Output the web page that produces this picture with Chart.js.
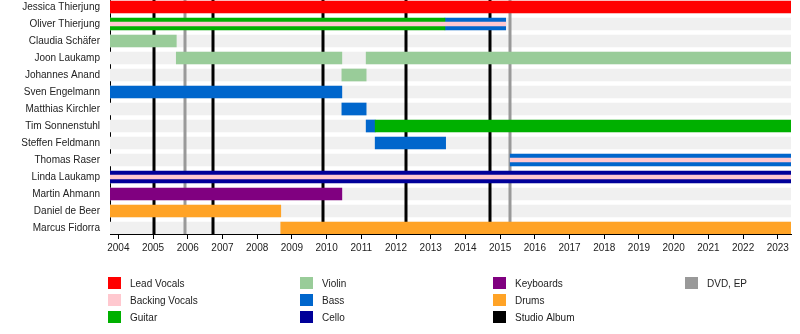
<!DOCTYPE html>
<html>
<head>
<meta charset="utf-8">
<title>Band timeline</title>
<script src="https://cdn.jsdelivr.net/npm/chart.js@4.4.1/dist/chart.umd.min.js"></script>
<style>
  html, body { margin: 0; padding: 0; background: #fff; }
  #wrap { width: 800px; height: 334px; position: relative; }
</style>
</head>
<body>
<div id="wrap"><canvas id="timeline"></canvas></div>
<script>
// Time span of the axis (decimal years)
const START = 2003.76;
const END = 2023.38;

// Band members, top to bottom
const members = [
  'Jessica Thierjung', 'Oliver Thierjung', 'Claudia Schäfer', 'Joon Laukamp',
  'Johannes Anand', 'Sven Engelmann', 'Matthias Kirchler', 'Tim Sonnenstuhl',
  'Steffen Feldmann', 'Thomas Raser', 'Linda Laukamp', 'Martin Ahmann',
  'Daniel de Beer', 'Marcus Fidorra'
];

// Year tick labels
const years = [2004, 2005, 2006, 2007, 2008, 2009, 2010, 2011, 2012, 2013,
               2014, 2015, 2016, 2017, 2018, 2019, 2020, 2021, 2022, 2023];

// Membership periods per role: [member, from, to]
const leadVocals = [['Jessica Thierjung', START, END]];
const backingVocals = [
  ['Oliver Thierjung', START, 2015.16],
  ['Thomas Raser', 2015.29, END],
  ['Linda Laukamp', START, END]
];
const guitar = [
  ['Oliver Thierjung', START, 2013.41],
  ['Tim Sonnenstuhl', 2011.40, END]
];
const violin = [
  ['Claudia Schäfer', START, 2005.67],
  ['Joon Laukamp', 2005.67, 2010.44],
  ['Joon Laukamp', 2011.14, END],
  ['Johannes Anand', 2010.44, 2011.14]
];
const bass = [
  ['Oliver Thierjung', 2013.41, 2015.16],
  ['Sven Engelmann', START, 2010.44],
  ['Matthias Kirchler', 2010.44, 2011.14],
  ['Tim Sonnenstuhl', 2011.14, 2011.40],
  ['Steffen Feldmann', 2011.40, 2013.43],
  ['Thomas Raser', 2015.29, END]
];
const cello = [['Linda Laukamp', START, END]];
const keyboards = [['Martin Ahmann', START, 2010.44]];
const drums = [
  ['Daniel de Beer', START, 2008.68],
  ['Marcus Fidorra', 2008.68, END]
];

// Release dates (decimal years)
const studioAlbums = [2005.03, 2006.74, 2009.91, 2012.30, 2014.72];
const dvdEp = [2005.93, 2015.29];

// Legend entries, column by column
const legendLabels = ['Lead Vocals', 'Backing Vocals', 'Guitar', 'Violin', 'Bass',
                      'Cello', 'Keyboards', 'Drums', 'Studio Album', 'DVD, EP'];

// Colours
const COLORS = {
  'Lead Vocals': '#ff0000',
  'Backing Vocals': '#ffc8cf',
  'Guitar': '#00b000',
  'Violin': '#99cc99',
  'Bass': '#0066cc',
  'Cello': '#000099',
  'Keyboards': '#800080',
  'Drums': '#ffa326',
  'Studio Album': '#000000',
  'DVD, EP': '#999999'
};
const ROW_BG = '#f0f0f0';
const FONT = "'Liberation Sans', Arial, Helvetica, sans-serif";

const toPoints = periods => periods.map(([who, from, to]) => ({ x: [from, to], y: members.indexOf(who) }));

function roleDataset(label, periods, thickness, order) {
  return {
    label,
    data: toPoints(periods),
    backgroundColor: COLORS[label],
    barThickness: thickness,
    grouped: false,
    borderWidth: 0,
    order
  };
}

const datasets = [
  {
    label: 'rows',
    data: members.map((m, i) => ({ x: [START, END], y: i })),
    backgroundColor: ROW_BG,
    barThickness: 12,
    grouped: false,
    borderWidth: 0,
    order: 100
  },
  roleDataset('Lead Vocals', leadVocals, 12, 50),
  roleDataset('Guitar', guitar, 12, 50),
  roleDataset('Violin', violin, 12, 50),
  roleDataset('Bass', bass, 12, 50),
  roleDataset('Cello', cello, 12, 50),
  roleDataset('Keyboards', keyboards, 12, 50),
  roleDataset('Drums', drums, 12, 50),
  roleDataset('Backing Vocals', backingVocals, 4, 1)
];

// Release lines sit above the row backgrounds and below the role bars
const releaseLines = {
  id: 'releaseLines',
  afterDatasetDraw(chart, args) {
    if (chart.data.datasets[args.index].label !== 'rows') return;
    const { ctx, chartArea, scales } = chart;
    const draw = (values, color, width) => {
      ctx.save();
      ctx.strokeStyle = color;
      ctx.lineWidth = width;
      values.forEach(v => {
        const x = Math.round(scales.x.getPixelForValue(v));
        ctx.beginPath();
        ctx.moveTo(x, chartArea.top);
        ctx.lineTo(x, chartArea.bottom);
        ctx.stroke();
      });
      ctx.restore();
    };
    draw(dvdEp, COLORS['DVD, EP'], 3);
    draw(studioAlbums, COLORS['Studio Album'], 3);
  }
};

// Four-column legend below the axis
const gridLegend = {
  id: 'gridLegend',
  afterDraw(chart) {
    const { ctx } = chart;
    const colX = [108, 300, 493, 685];
    const rowY = [277, 294, 311];
    ctx.save();
    ctx.font = '10px ' + FONT;
    ctx.textBaseline = 'middle';
    ctx.textAlign = 'left';
    legendLabels.forEach((label, i) => {
      const x = colX[Math.floor(i / 3)];
      const y = rowY[i % 3];
      ctx.fillStyle = COLORS[label];
      ctx.fillRect(x, y, 13, 12);
      ctx.fillStyle = '#222';
      ctx.fillText(label, x + 22, y + 7);
    });
    ctx.restore();
  }
};

new Chart(document.getElementById('timeline'), {
  type: 'bar',
  data: { datasets },
  plugins: [releaseLines, gridLegend],
  options: {
    indexAxis: 'y',
    responsive: true,
    maintainAspectRatio: false,
    animation: false,
    events: [],
    layout: { padding: { top: 0, right: 9, bottom: 0, left: 0 } },
    plugins: { legend: { display: false }, tooltip: { enabled: false } },
    scales: {
      x: {
        type: 'linear',
        position: 'bottom',
        z: 1,
        min: START,
        max: END,
        afterBuildTicks: s => { s.ticks = years.map(v => ({ value: v })); },
        afterFit: s => { s.height = 100; s.paddingLeft = 0; s.paddingRight = 0; },
        grid: { drawOnChartArea: false, drawTicks: true, tickLength: 5, color: '#000' },
        border: { display: true, color: '#000', width: 1 },
        ticks: {
          autoSkip: false,
          maxRotation: 0,
          padding: 3,
          color: '#222',
          font: { size: 10, family: FONT },
          callback: v => String(v)
        }
      },
      y: {
        type: 'linear',
        reverse: true,
        offset: false,
        z: 1,
        min: -0.4118,
        max: 13.353,
        afterBuildTicks: s => { s.ticks = members.map((m, i) => ({ value: i })); },
        afterFit: s => { s.width = 110; s.paddingTop = 0; s.paddingBottom = 0; },
        grid: { display: false, offset: false, drawOnChartArea: false, drawTicks: false },
        border: { display: true, color: '#000', width: 1 },
        ticks: {
          autoSkip: false,
          padding: 10,
          color: '#222',
          font: { size: 10, family: FONT },
          callback: v => members[v]
        }
      }
    }
  }
});
</script>
</body>
</html>
